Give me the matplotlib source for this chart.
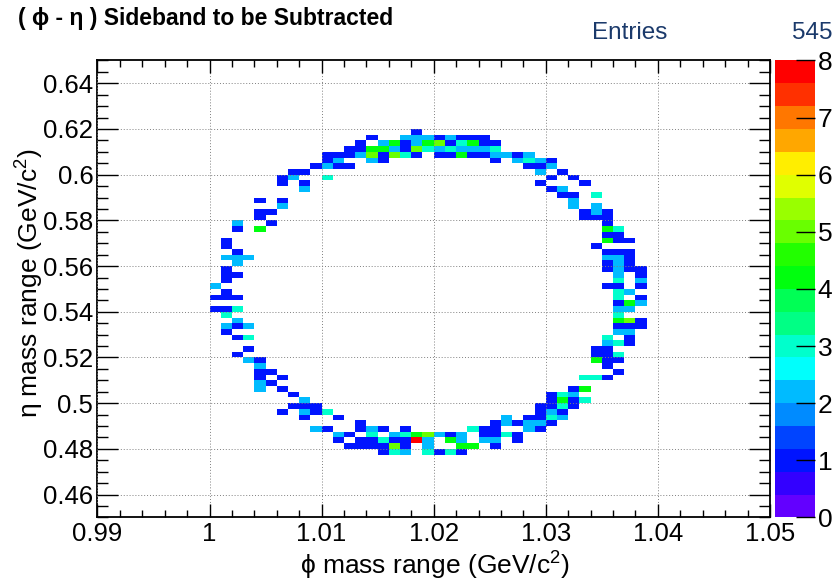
import colorsys

import numpy as np
import matplotlib
matplotlib.use("Agg")
import matplotlib.pyplot as plt
from matplotlib.colors import ListedColormap, BoundaryNorm
from matplotlib.ticker import MultipleLocator

plt.rcParams["font.family"] = ["Liberation Sans", "DejaVu Sans"]
plt.rcParams["mathtext.fontset"] = "custom"
plt.rcParams["mathtext.rm"] = "Liberation Sans"
plt.rcParams["mathtext.it"] = "Liberation Sans:italic"

# ---- histogram definition -------------------------------------------------
phi_lo, phi_hi, n_phi = 0.99, 1.05, 60
eta_lo, eta_hi, n_eta = 0.45, 0.65, 80
z_min, z_max, n_contours = 0, 8, 20
n_entries = 545

title = "( \u03d5 - \u03b7 ) Sideband to be Subtracted"
x_title = "\u03d5 mass range (GeV/c$^{2}$)"
y_title = "\u03b7 mass range (GeV/c$^{2}$)"

x_ticks = [0.99, 1.0, 1.01, 1.02, 1.03, 1.04, 1.05]
x_tick_labels = ["0.99", "1", "1.01", "1.02", "1.03", "1.04", "1.05"]
y_ticks = [0.46, 0.48, 0.50, 0.52, 0.54, 0.56, 0.58, 0.60, 0.62, 0.64]
y_tick_labels = ["0.46", "0.48", "0.5", "0.52", "0.54", "0.56", "0.58", "0.6", "0.62", "0.64"]
z_ticks = [0, 1, 2, 3, 4, 5, 6, 7, 8]

# bin contents: eta bin -> [(phi bin counted from 1.000 GeV, entries), ...]
ring_counts = {
    67: [(18, 1)],
    66: [(14, 1), (17, 2), (18, 2), (19, 2), (20, 1), (21, 2), (22, 1), (23, 1), (24, 1)],
    65: [(13, 1), (15, 2), (16, 4), (17, 1), (18, 2), (19, 4), (20, 5), (21, 1), (22, 3),
         (23, 4), (24, 1), (25, 1)],
    64: [(12, 1), (13, 1), (14, 4), (15, 4), (16, 2), (17, 1), (18, 5), (19, 3), (20, 2),
         (21, 3), (22, 2), (23, 2), (24, 2), (25, 3)],
    63: [(10, 1), (11, 1), (12, 1), (13, 2), (14, 5), (15, 1), (16, 5), (17, 3), (18, 1),
         (20, 1), (21, 1), (22, 4), (23, 1), (24, 1), (25, 2), (26, 2), (27, 1), (28, 2)],
    62: [(10, 1), (11, 2), (14, 2), (15, 1), (25, 1), (27, 2), (28, 3), (29, 2), (30, 1)],
    61: [(9, 1), (10, 2), (11, 1), (12, 1), (28, 1), (29, 1), (30, 2)],
    60: [(7, 1), (8, 1), (29, 2), (31, 1)],
    59: [(6, 1), (7, 2), (10, 3), (30, 1), (32, 1)],
    58: [(6, 1), (8, 1), (29, 1), (33, 1)],
    57: [(8, 2), (30, 1), (31, 2)],
    56: [(31, 1), (32, 1), (34, 3)],
    55: [(4, 1), (6, 1), (32, 2)],
    54: [(6, 2), (32, 2), (34, 2)],
    53: [(4, 1), (5, 1), (33, 1), (34, 2), (35, 1)],
    52: [(4, 1), (33, 1), (34, 1), (35, 1)],
    51: [(2, 2), (5, 1), (35, 1)],
    50: [(2, 1), (4, 4), (35, 4), (36, 3)],
    49: [(35, 1), (36, 1)],
    48: [(1, 1), (35, 4), (36, 1), (37, 1)],
    47: [(1, 1), (34, 1)],
    46: [(2, 1), (35, 1), (36, 1), (37, 1)],
    45: [(1, 2), (2, 2), (3, 2), (35, 2), (36, 2), (37, 1)],
    44: [(2, 2), (35, 1), (36, 2), (37, 1)],
    43: [(1, 1), (35, 1), (36, 2), (37, 1), (38, 1)],
    42: [(1, 1), (2, 1), (36, 2), (38, 1)],
    41: [(1, 1), (36, 3), (38, 2)],
    40: [(0, 2), (35, 1), (36, 1), (38, 1)],
    39: [(1, 1), (36, 3), (37, 2)],
    38: [(0, 1), (1, 1), (2, 1), (36, 3), (38, 1)],
    37: [(36, 1), (37, 4), (38, 2)],
    36: [(0, 1), (1, 1), (2, 3), (36, 2), (37, 2)],
    35: [(1, 3), (36, 3)],
    34: [(2, 2), (36, 4), (37, 5), (38, 1)],
    33: [(1, 2), (2, 1), (3, 2), (36, 1), (37, 1), (38, 1)],
    32: [(1, 1), (36, 2), (37, 2)],
    31: [(2, 1), (3, 3), (35, 3), (37, 1)],
    30: [(35, 2), (36, 3), (37, 1)],
    29: [(3, 1), (34, 1), (35, 1)],
    28: [(2, 1), (34, 1), (35, 1), (36, 3)],
    27: [(3, 2), (4, 1), (34, 4), (35, 1), (36, 1)],
    26: [(4, 2), (35, 1)],
    25: [(4, 1), (5, 1), (36, 1)],
    24: [(4, 1), (6, 1), (33, 3), (34, 3), (35, 1)],
    23: [(4, 2), (5, 1)],
    22: [(4, 2), (6, 1), (32, 1), (33, 4)],
    21: [(7, 1), (30, 1), (31, 3), (32, 2)],
    20: [(8, 2), (30, 1), (31, 4), (32, 1), (33, 3)],
    19: [(7, 1), (8, 1), (9, 1), (29, 1), (30, 1), (31, 3), (32, 1)],
    18: [(6, 1), (8, 2), (9, 1), (10, 3), (29, 1), (30, 2), (31, 1)],
    17: [(8, 1), (11, 1), (26, 2), (28, 1), (29, 1), (30, 3), (31, 2)],
    16: [(13, 1), (25, 1), (26, 2), (27, 1), (28, 2), (29, 2), (30, 1)],
    15: [(9, 2), (10, 1), (13, 1), (14, 2), (15, 1), (17, 1), (23, 3), (24, 1), (25, 1),
         (28, 2), (29, 1)],
    14: [(11, 2), (12, 1), (14, 3), (16, 2), (17, 3), (18, 4), (19, 5), (20, 2), (21, 1),
         (22, 2), (24, 1), (25, 1), (26, 3), (27, 1)],
    13: [(11, 1), (13, 1), (14, 1), (15, 3), (16, 1), (17, 1), (18, 8), (19, 2), (21, 4),
         (22, 2), (24, 2), (25, 2), (27, 1)],
    12: [(12, 1), (13, 1), (14, 1), (15, 1), (16, 5), (17, 1), (19, 2), (22, 4), (23, 4),
         (25, 1)],
    11: [(15, 1), (16, 3), (17, 2), (19, 3), (20, 1), (21, 3), (22, 1)],
}
phi_offset = 10  # bins between 0.99 and 1.000 GeV

# ---- fill the 2D histogram --------------------------------------------------
hist = np.zeros((n_eta, n_phi))
for eta_bin, cells in ring_counts.items():
    for phi_bin, count in cells:
        hist[eta_bin, phi_bin + phi_offset] = count
hist = np.ma.masked_equal(hist, 0)

phi_edges = np.linspace(phi_lo, phi_hi, n_phi + 1)
eta_edges = np.linspace(eta_lo, eta_hi, n_eta + 1)

# ROOT "pretty" palette: 50 hues from violet to red, sampled by 20 contours
pretty = [colorsys.hls_to_rgb((280.0 - (i + 1) * 280.0 / 50) / 360.0, 0.5, 1.0)
          for i in range(50)]
band_colors = [pretty[int((k + 0.99) * 50 / n_contours)] for k in range(n_contours)]
cmap = ListedColormap(band_colors)
cmap.set_over(band_colors[-1])
levels = np.linspace(z_min, z_max, n_contours + 1)
norm = BoundaryNorm(levels, cmap.N)

# ---- figure -----------------------------------------------------------------
fig = plt.figure(figsize=(8.38, 5.84), dpi=100)
ax = fig.add_axes([0.1163, 0.1139, 0.8025, 0.7827])
mesh = ax.pcolormesh(phi_edges, eta_edges, hist, cmap=cmap, norm=norm,
                     edgecolors="none", antialiased=False, zorder=1)

ax.set_xlim(phi_lo, phi_hi)
ax.set_ylim(eta_lo, eta_hi)
ax.set_xticks(x_ticks)
ax.set_xticklabels(x_tick_labels)
ax.set_yticks(y_ticks)
ax.set_yticklabels(y_tick_labels)
ax.xaxis.set_minor_locator(MultipleLocator(0.002))
ax.yaxis.set_minor_locator(MultipleLocator(0.005))

ax.tick_params(axis="both", which="both", direction="in", top=True, right=True,
               labelsize=18.5, width=1.0, colors="black")
ax.tick_params(axis="x", which="major", length=9.5, pad=3)
ax.tick_params(axis="x", which="minor", length=5)
ax.tick_params(axis="y", which="major", length=15, pad=3)
ax.tick_params(axis="y", which="minor", length=8)

ax.set_axisbelow(False)
ax.grid(True, which="major", linestyle=(0, (1, 2)), color="#808080", linewidth=0.7)
for spine in ax.spines.values():
    spine.set_linewidth(1.3)

# axis titles
fig.text(0.519, 0.031, x_title, fontsize=19, ha="center", va="center")
fig.text(0.036, 0.515, y_title, fontsize=19, ha="center", va="center", rotation=90)

# palette axis
cax = fig.add_axes([0.9248, 0.1139, 0.0477, 0.7827])
cb = fig.colorbar(mesh, cax=cax, ticks=z_ticks)
cb.outline.set_visible(False)
cax.tick_params(axis="y", which="major", direction="in", right=True, left=False,
                length=14, width=1.0, labelsize=19, pad=2)
cax.tick_params(axis="y", which="minor", length=0)
cax.set_yticklabels([str(t) for t in z_ticks])

# title and statistics
fig.text(0.022, 0.969, title, fontsize=16.5, fontweight="bold", ha="left", va="center")
fig.text(0.706, 0.9435, "Entries", fontsize=17.5, color="#1b3a6b", ha="left", va="center")
fig.text(0.993, 0.9435, f"{n_entries}", fontsize=17.5, color="#1b3a6b", ha="right", va="center")

fig.savefig("out.png", dpi=100, facecolor="white")
